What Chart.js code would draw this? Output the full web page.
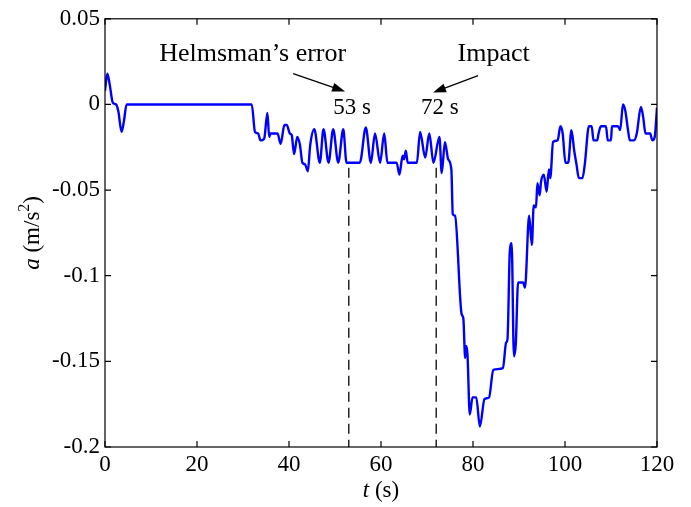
<!DOCTYPE html>
<html>
<head>
<meta charset="utf-8">
<script src="https://cdn.jsdelivr.net/npm/chart.js@4.4.1/dist/chart.umd.min.js"></script>
<style>
  html, body { margin: 0; padding: 0; background: #fff; }
</style>
</head>
<body>
<canvas id="chart" width="691" height="507"></canvas>
<script>
// time (s) and acceleration (m/s^2)
const tData = [0, 0.5, 1.0, 1.7, 2.4, 2.9, 3.6, 4.1, 4.7, 31.9,
  32.6, 33.3, 33.8, 34.6, 35.3, 35.7, 36.0, 37.5, 38.2, 39.0,
  39.5, 40.2, 40.6, 41.1, 41.8, 42.4, 42.9, 43.5, 44.1, 44.6,
  45.5, 46.7, 47.5, 48.6, 49.6, 50.7, 51.8, 52.5, 55.4, 56.7,
  57.8, 58.7, 59.8, 60.7, 61.4, 63.4, 64.0, 64.7, 65.0, 65.4,
  65.8, 67.8, 68.5, 69.6, 70.5, 71.4, 72.7, 73.2, 73.9, 74.6,
  75.3, 75.6, 76.1, 77.5, 77.9, 78.3, 78.5, 78.8, 79.3, 79.9,
  80.7, 81.5, 82.5, 83.5, 84.4, 86.5, 87.2, 87.5, 88.0, 88.4,
  88.9, 89.3, 89.8, 90.9, 91.3, 92.2, 92.8, 93.2, 93.7, 94.0,
  94.5, 94.8, 95.4, 96.0, 96.5, 96.8, 97.4, 98.4, 99.0, 99.5,
  100.1, 100.7, 101.4, 102.0, 102.5, 103.0, 103.8, 104.3, 105.2, 105.8,
  106.2, 107.0, 107.3, 107.8, 108.9, 109.3, 110.0, 110.2, 111.5, 112.0,
  112.6, 113.1, 113.7, 114.1, 115.0, 115.6, 116.5, 117.0, 117.5, 118.5,
  119.0, 119.5, 120.0];
const aData = [0.008, 0.018, 0.012, 0.001, 0, -0.004, -0.016, -0.010, 0, 0,
  -0.016, -0.017, -0.021, -0.020, -0.005, -0.019, -0.017, -0.017, -0.023, -0.012,
  -0.012, -0.017, -0.018, -0.029, -0.019, -0.024, -0.034, -0.035, -0.039, -0.024,
  -0.0145, -0.034, -0.0145, -0.034, -0.0145, -0.034, -0.0145, -0.034, -0.034, -0.0135,
  -0.034, -0.017, -0.034, -0.017, -0.034, -0.034, -0.041, -0.030, -0.032, -0.027,
  -0.034, -0.034, -0.016, -0.031, -0.017, -0.034, -0.019, -0.040, -0.022, -0.032,
  -0.038, -0.064, -0.065, -0.122, -0.125, -0.148, -0.141, -0.146, -0.181, -0.171,
  -0.171, -0.188, -0.172, -0.171, -0.155, -0.154, -0.139, -0.137, -0.086, -0.081,
  -0.147, -0.140, -0.104, -0.104, -0.107, -0.065, -0.082, -0.059, -0.060, -0.046,
  -0.053, -0.045, -0.041, -0.051, -0.038, -0.043, -0.022, -0.021, -0.0127, -0.017,
  -0.034, -0.034, -0.015, -0.027, -0.035, -0.043, -0.043, -0.035, -0.0127, -0.0127,
  -0.021, -0.021, -0.017, -0.0127, -0.0127, -0.021, -0.021, -0.0127, -0.0127, -0.015,
  0.0, -0.0035, -0.015, -0.021, -0.021, -0.017, -0.0015, -0.0074, -0.017, -0.017,
  -0.021, -0.019, -0.002];

const eventTimes = [53, 72];
const eventFrom = [-0.037, -0.037];
const eventLabels = ['53 s', '72 s'];
const noteLabels = ['Helmsman\u2019s error', 'Impact'];

const xTicks = [0, 20, 40, 60, 80, 100, 120];
const yTicks = [0.05, 0, -0.05, -0.1, -0.15, -0.2];
const yTickLabels = ['0.05', '0', '-0.05', '-0.1', '-0.15', '-0.2'];

const SERIF = '"Liberation Serif", "Times New Roman", serif';
const FONT = '23px ' + SERIF;
const ITAL = 'italic 23px ' + SERIF;
const NOTE = '26px ' + SERIF;

const series = tData.map((t, i) => ({ x: t, y: aData[i] }));

const eventSets = eventTimes.map((t, i) => ({
  data: [{ x: t, y: eventFrom[i] }, { x: t, y: -0.2 }],
  borderColor: '#000',
  borderWidth: 1.3,
  borderDash: [10, 6],
  pointRadius: 0,
  showLine: true
}));

function arrow(ctx, x1, y1, x2, y2) {
  const ang = Math.atan2(y2 - y1, x2 - x1);
  const len = 13, w = 4.5;
  ctx.beginPath();
  ctx.moveTo(x1, y1);
  ctx.lineTo(x2 - Math.cos(ang) * len * 0.8, y2 - Math.sin(ang) * len * 0.8);
  ctx.stroke();
  ctx.beginPath();
  ctx.moveTo(x2, y2);
  ctx.lineTo(x2 - Math.cos(ang) * len - Math.sin(ang) * w, y2 - Math.sin(ang) * len + Math.cos(ang) * w);
  ctx.lineTo(x2 - Math.cos(ang) * len + Math.sin(ang) * w, y2 - Math.sin(ang) * len - Math.cos(ang) * w);
  ctx.closePath();
  ctx.fill();
}

function drawParts(ctx, parts, cx, cy) {
  let total = 0;
  parts.forEach(p => { ctx.font = p.f; p.w = ctx.measureText(p.t).width; total += p.w; });
  let x = cx - total / 2;
  parts.forEach(p => {
    ctx.font = p.f;
    ctx.fillText(p.t, x, cy + (p.dy || 0));
    x += p.w;
  });
}

const decorations = {
  id: 'decorations',
  afterDraw(chart) {
    const { ctx, chartArea: ca, scales: { x, y } } = chart;
    ctx.save();
    ctx.strokeStyle = '#000';
    ctx.fillStyle = '#000';
    ctx.lineWidth = 1.2;

    // box
    ctx.strokeRect(ca.left, ca.top, ca.right - ca.left, ca.bottom - ca.top);

    // inward ticks
    ctx.beginPath();
    xTicks.forEach(v => {
      const px = x.getPixelForValue(v);
      ctx.moveTo(px, ca.bottom); ctx.lineTo(px, ca.bottom - 6);
      ctx.moveTo(px, ca.top); ctx.lineTo(px, ca.top + 6);
    });
    yTicks.forEach(v => {
      const py = y.getPixelForValue(v);
      ctx.moveTo(ca.left, py); ctx.lineTo(ca.left + 6, py);
      ctx.moveTo(ca.right, py); ctx.lineTo(ca.right - 6, py);
    });
    ctx.stroke();

    // notes
    ctx.textAlign = 'center';
    ctx.textBaseline = 'middle';
    ctx.font = NOTE;
    ctx.fillText(noteLabels[0], x.getPixelForValue(32.1), y.getPixelForValue(0.0295));
    ctx.fillText(noteLabels[1], x.getPixelForValue(84.5), y.getPixelForValue(0.0295));
    ctx.font = FONT;
    ctx.fillText(eventLabels[0], x.getPixelForValue(53.7), y.getPixelForValue(-0.0023));
    ctx.fillText(eventLabels[1], x.getPixelForValue(72.8), y.getPixelForValue(-0.0023));

    ctx.lineWidth = 1.3;
    arrow(ctx, x.getPixelForValue(40.9), y.getPixelForValue(0.018),
               x.getPixelForValue(52.2), y.getPixelForValue(0.0075));
    arrow(ctx, x.getPixelForValue(81.1), y.getPixelForValue(0.0168),
               x.getPixelForValue(71.3), y.getPixelForValue(0.0069));

    // axis titles
    ctx.textAlign = 'left';
    ctx.textBaseline = 'middle';
    drawParts(ctx, [{ t: 't', f: ITAL }, { t: ' (s)', f: FONT }],
      (ca.left + ca.right) / 2, 491);

    ctx.translate(33, (ca.top + ca.bottom) / 2);
    ctx.rotate(-Math.PI / 2);
    drawParts(ctx, [
      { t: 'a', f: ITAL },
      { t: ' (m/s', f: FONT },
      { t: '2', f: '16px ' + SERIF, dy: -8 },
      { t: ')', f: FONT }
    ], 0, 0);
    ctx.restore();
  }
};

new Chart(document.getElementById('chart'), {
  type: 'scatter',
  data: {
    datasets: [{
      data: series,
      borderColor: '#0000ff',
      borderWidth: 2.4,
      pointRadius: 0,
      showLine: true,
      cubicInterpolationMode: 'monotone'
    }, ...eventSets]
  },
  options: {
    responsive: false,
    animation: false,
    devicePixelRatio: 1,
    layout: { padding: { top: 15, right: 34, left: 0, bottom: 0 } },
    plugins: { legend: { display: false }, tooltip: { enabled: false } },
    scales: {
      x: {
        type: 'linear', min: 0, max: 120,
        afterBuildTicks: s => { s.ticks = xTicks.map(v => ({ value: v })); },
        afterFit: s => { s.height = 60; },
        grid: { display: false, drawTicks: false },
        border: { display: false },
        ticks: { color: '#000', font: { family: SERIF, size: 23 }, padding: 4, maxRotation: 0 }
      },
      y: {
        type: 'linear', min: -0.2, max: 0.05,
        afterBuildTicks: s => { s.ticks = yTicks.map(v => ({ value: v })); },
        afterFit: s => { s.width = 105; },
        grid: { display: false, drawTicks: false },
        border: { display: false },
        ticks: {
          color: '#000', font: { family: SERIF, size: 23 }, padding: 5,
          callback: (v, i) => yTickLabels[i]
        }
      }
    }
  },
  plugins: [decorations]
});
</script>
</body>
</html>
